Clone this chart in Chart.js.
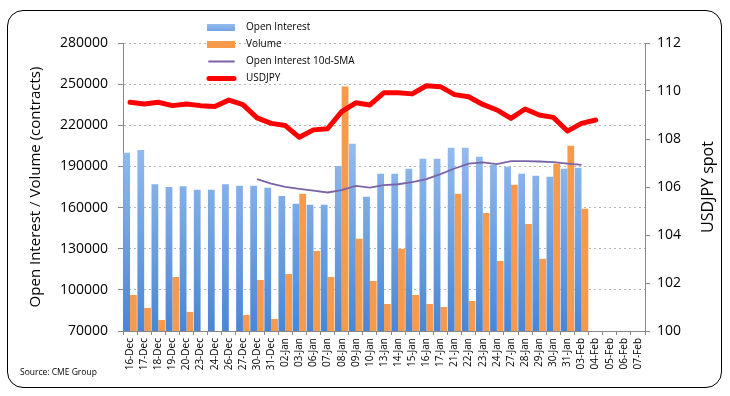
<!DOCTYPE html>
<html>
<head>
<meta charset="utf-8">
<script src="https://cdn.jsdelivr.net/npm/chart.js@4/dist/chart.umd.min.js"></script>
<style>
    html, body { margin: 0; padding: 0; background: #FFFFFF; }
    #wrap { position: relative; width: 730px; height: 396px; }
    #frame {
        position: absolute; left: 7px; top: 10px; width: 713px; height: 376px;
        border: 1px solid #000000; border-radius: 16px; pointer-events: none;
    }
</style>
</head>
<body>
<div id="wrap">
    <div id="frame"></div>
    <canvas id="main-chart" width="730" height="396"></canvas>
</div>
<script>
const dates = ['16-Dec', '17-Dec', '18-Dec', '19-Dec', '20-Dec', '23-Dec', '24-Dec', '26-Dec', '27-Dec', '30-Dec',
    '31-Dec', '02-Jan', '03-Jan', '06-Jan', '07-Jan', '08-Jan', '09-Jan', '10-Jan', '13-Jan', '14-Jan',
    '15-Jan', '16-Jan', '17-Jan', '21-Jan', '22-Jan', '23-Jan', '24-Jan', '27-Jan', '28-Jan', '29-Jan',
    '30-Jan', '31-Jan', '03-Feb', '04-Feb', '05-Feb', '06-Feb', '07-Feb'];

const openInterest = [200000, 202000, 177000, 175000, 175500, 173000, 173000, 177000, 176000, 176000,
    174400, 168500, 162700, 162000, 162000, 190400, 206500, 167800, 184600, 184600,
    188300, 195600, 195600, 203600, 203600, 197000, 191200, 189700, 184600, 183200,
    182400, 188300, 189000, null, null, null, null];

const volume = [96300, 86800, 78000, 109400, 83900, null, null, null, 81700, 107200,
    78800, 111600, 170000, 128400, 109400, 248300, 137200, 106500, 89700, 129900,
    96300, 89700, 87500, 170000, 91900, 156100, 121100, 176600, 148100, 122600,
    191900, 205000, 159100, null, null, null, null];

const oiSma = [null, null, null, null, null, null, null, null, null, 180700,
    177500, 175100, 173700, 172400, 171000, 172700, 175800, 174600, 176300, 177000,
    178500, 180700, 184400, 188500, 192100, 192900, 191700, 193900, 193900, 193600,
    193100, 192100, 191200, null, null, null, null];

const usdjpy = [109.53, 109.46, 109.53, 109.39, 109.46, 109.39, 109.35, 109.62, 109.43, 108.88,
    108.65, 108.56, 108.07, 108.38, 108.43, 109.14, 109.51, 109.42, 109.93, 109.93,
    109.88, 110.22, 110.18, 109.85, 109.76, 109.44, 109.21, 108.86, 109.25, 109.00,
    108.90, 108.33, 108.65, 108.79, null, null, null];

const contractTicks = [70000, 100000, 130000, 160000, 190000, 220000, 250000, 280000];
const spotTicks = [100, 102, 104, 106, 108, 110, 112];

const leftTitle = 'Open Interest / Volume (contracts)';
const rightTitle = 'USDJPY spot';
const sourceNote = 'Source: CME Group';

const FONT = "'Open Sans', sans-serif";

function blueFill(ctx, area) {
    const g = ctx.createLinearGradient(0, area.top, 0, area.bottom);
    g.addColorStop(0, '#BCD9FC');
    g.addColorStop(1, '#4A86D4');
    return g;
}

// draws the stacked legend, the right axis title and the source note
const extrasPlugin = {
    id: 'extras',
    afterDraw(chart) {
        const ctx = chart.ctx;
        ctx.save();

        // legend, one row per dataset
        ctx.font = `10px ${FONT}`;
        ctx.fillStyle = '#000000';
        ctx.textBaseline = 'middle';
        const rows = [27.5, 44.5, 61.5, 78.5];
        chart.data.datasets.forEach((ds, i) => {
            const y = rows[i];
            if (ds.type === 'line') {
                ctx.beginPath();
                ctx.lineCap = 'round';
                ctx.strokeStyle = ds.borderColor;
                ctx.lineWidth = ds.borderWidth;
                ctx.moveTo(209, y);
                ctx.lineTo(234, y);
                ctx.stroke();
            } else {
                ctx.fillStyle = i === 0 ? blueFill(ctx, {top: y - 12, bottom: y + 12}) : ds.backgroundColor;
                ctx.fillRect(207, y - 3.5, 28, 7);
            }
            ctx.fillStyle = '#000000';
            ctx.fillText(ds.label, 246, y);
        });

        // right axis title reads bottom-to-top
        ctx.translate(708, (chart.chartArea.top + chart.chartArea.bottom) / 2);
        ctx.rotate(-Math.PI / 2);
        ctx.font = `16px ${FONT}`;
        ctx.textAlign = 'center';
        ctx.fillText(rightTitle, 0, 0);
        ctx.restore();

        ctx.save();
        ctx.font = `8.5px ${FONT}`;
        ctx.fillStyle = '#000000';
        ctx.textBaseline = 'middle';
        ctx.fillText(sourceNote, 20, 373);
        ctx.restore();
    }
};

const ctx = document.getElementById('main-chart').getContext('2d');

new Chart(ctx, {
    data: {
        labels: dates,
        datasets: [{
            type: 'bar',
            label: 'Open Interest',
            data: openInterest,
            yAxisID: 'y',
            order: 2,
            backgroundColor: (c) => c.chart.chartArea ? blueFill(c.chart.ctx, c.chart.chartArea) : '#8DB4E2',
            borderWidth: 0,
            categoryPercentage: 0.96,
            barPercentage: 1.0
        }, {
            type: 'bar',
            label: 'Volume',
            data: volume,
            yAxisID: 'y',
            order: 2,
            backgroundColor: '#F79A4B',
            borderWidth: 0,
            categoryPercentage: 0.96,
            barPercentage: 1.0
        }, {
            type: 'line',
            label: 'Open Interest 10d-SMA',
            data: oiSma,
            yAxisID: 'y',
            order: 1,
            borderColor: '#7C62A6',
            borderWidth: 1.8,
            pointRadius: 0,
            tension: 0,
            fill: false
        }, {
            type: 'line',
            label: 'USDJPY',
            data: usdjpy,
            yAxisID: 'y1',
            order: 0,
            borderColor: '#FF0000',
            borderWidth: 5,
            borderJoinStyle: 'round',
            borderCapStyle: 'round',
            pointRadius: 0,
            tension: 0,
            fill: false
        }]
    },
    options: {
        responsive: false,
        animation: false,
        devicePixelRatio: 1,
        layout: {
            padding: { top: 43, right: 0, bottom: 0, left: 0 }
        },
        plugins: {
            legend: { display: false },
            tooltip: { enabled: false }
        },
        scales: {
            x: {
                type: 'category',
                offset: true,
                afterFit: (s) => { s.height = 65; },
                grid: {
                    offset: true,
                    drawOnChartArea: false,
                    drawTicks: true,
                    tickLength: 4,
                    color: '#888888'
                },
                border: { color: '#888888', width: 1 },
                ticks: {
                    autoSkip: false,
                    minRotation: 90,
                    maxRotation: 90,
                    padding: 3,
                    color: '#000000',
                    font: { family: FONT, size: 10 }
                }
            },
            y: {
                position: 'left',
                min: 70000,
                max: 280000,
                afterFit: (s) => { s.width = 123; },
                afterBuildTicks: (s) => { s.ticks = contractTicks.map(v => ({ value: v })); },
                grid: {
                    color: '#B4B4B4',
                    lineWidth: 1,
                    tickLength: 5,
                    tickColor: '#888888'
                },
                border: { color: '#888888', width: 1, dash: [2, 3] },
                ticks: {
                    padding: 10,
                    color: '#000000',
                    font: { family: FONT, size: 14 },
                    callback: (v) => String(v)
                },
                title: {
                    display: true,
                    text: leftTitle,
                    color: '#000000',
                    font: { family: FONT, size: 15 },
                    padding: { top: 27, bottom: 0 }
                }
            },
            y1: {
                position: 'right',
                min: 100,
                max: 112,
                afterFit: (s) => { s.width = 85; },
                afterBuildTicks: (s) => { s.ticks = spotTicks.map(v => ({ value: v })); },
                grid: {
                    drawOnChartArea: false,
                    tickLength: 5,
                    tickColor: '#888888'
                },
                border: { color: '#888888', width: 1 },
                ticks: {
                    padding: 7,
                    color: '#000000',
                    font: { family: FONT, size: 14 },
                    callback: (v) => String(v)
                }
            }
        }
    },
    plugins: [extrasPlugin]
});
</script>
</body>
</html>
